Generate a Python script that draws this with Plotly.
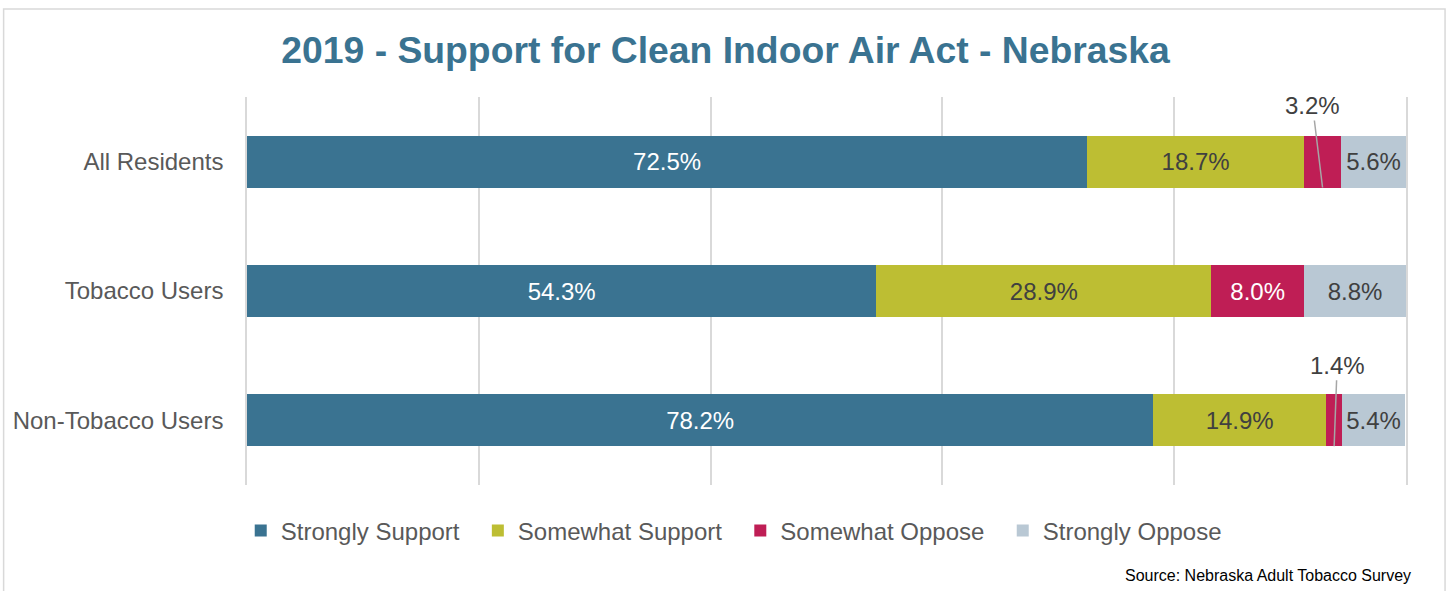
import plotly.graph_objects as go

# 2019 Clean Indoor Air Act support, Nebraska (percent of respondents)
groups = ["All Residents", "Tobacco Users", "Non-Tobacco Users"]
responses = ["Strongly Support", "Somewhat Support", "Somewhat Oppose", "Strongly Oppose"]
strongly_support = [72.5, 54.3, 78.2]
somewhat_support = [18.7, 28.9, 14.9]
somewhat_oppose = [3.2, 8.0, 1.4]
strongly_oppose = [5.6, 8.8, 5.4]
grid_ticks = [0, 20, 40, 60, 80, 100]

series = [strongly_support, somewhat_support, somewhat_oppose, strongly_oppose]
colors = ["#3A7391", "#BDBE33", "#BF1E55", "#B9C8D4"]
label_colors = ["#FFFFFF", "#404040", "#FFFFFF", "#404040"]
FONT = "Arial, Liberation Sans, sans-serif"
SMALL = 4.0  # segments narrower than this get an outside label with a leader line
PAD = "\u00a0\u00a0"  # a bit of extra room between legend entries

fig = go.Figure()
for name, vals, col, lcol in zip(responses, series, colors, label_colors):
    fig.add_trace(go.Bar(
        y=groups,
        x=vals,
        name=name + PAD,
        orientation="h",
        marker=dict(color=col, line=dict(width=0)),
        text=[f"{v:.1f}%" if v >= SMALL else "" for v in vals],
        textposition="inside",
        insidetextanchor="middle",
        textfont=dict(family=FONT, size=24, color=lcol),
        hovertemplate="%{y}: %{x:.1f}%<extra>" + name + "</extra>",
    ))

# leader-line labels for the thin segments
label_offsets = {0: (-10, -82), 2: (3, -81)}
for i, g in enumerate(groups):
    v = somewhat_oppose[i]
    if v >= SMALL:
        continue
    left = strongly_support[i] + somewhat_support[i]
    ax, ay = label_offsets.get(i, (0, -80))
    fig.add_annotation(
        x=left + v / 2, y=i + 0.2, xref="x", yref="y",
        text=f"{v:.1f}%", showarrow=True, arrowhead=0, arrowwidth=1.5,
        arrowcolor="#A6A6A6", ax=ax, ay=ay, standoff=0,
        font=dict(family=FONT, size=24, color="#404040"),
    )

fig.add_annotation(
    text="Source: Nebraska Adult Tobacco Survey",
    x=1.006, y=-0.232, xref="paper", yref="paper",
    xanchor="right", yanchor="middle", showarrow=False,
    font=dict(family=FONT, size=16, color="#000000"),
)

# chart frame
fig.add_shape(type="rect", xref="paper", yref="paper",
              x0=-0.21, x1=1.0337, y0=-0.4, y1=1.2268,
              line=dict(color="#D9D9D9", width=1.5), layer="below")

fig.update_layout(
    width=1451, height=591,
    barmode="stack",
    bargap=0.6,
    plot_bgcolor="white",
    paper_bgcolor="white",
    margin=dict(l=247, r=45, t=97, b=106),
    title=dict(
        text="<b>2019 - Support for Clean Indoor Air Act - Nebraska</b>",
        x=0.5, xref="container", xanchor="center",
        y=1 - 50 / 591, yref="container", yanchor="middle",
        font=dict(family=FONT, size=37.3, color="#3A7391"),
    ),
    xaxis=dict(
        range=[0, 100], tickvals=grid_ticks, showticklabels=False,
        showgrid=True, gridcolor="#D9D9D9", gridwidth=1.5,
        zeroline=False, showline=False, fixedrange=True,
    ),
    yaxis=dict(
        range=[2.5, -0.5], showgrid=False, zeroline=False, ticks="",
        showline=True, mirror=True, linecolor="#D9D9D9", linewidth=1.5,
        ticklabelstandoff=17,
        tickfont=dict(family=FONT, size=24, color="#595959"),
    ),
    legend=dict(
        orientation="h", x=0.426, xanchor="center", y=-0.1186, yanchor="middle",
        font=dict(family=FONT, size=24, color="#595959"),
        traceorder="normal", itemclick=False,
    ),
    showlegend=True,
)

# the page's default body margin would push the chart 8px down and right
fig.write_html(
    "out.html",
    config={"displayModeBar": False},
    post_script="document.body.style.margin = '0px';",
)
